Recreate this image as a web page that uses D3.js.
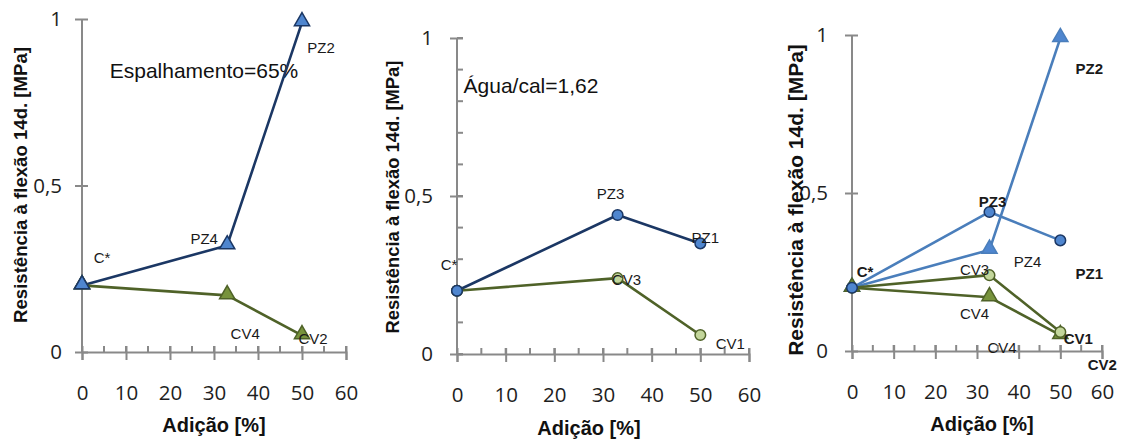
<!DOCTYPE html>
<html>
<head>
<meta charset="utf-8">
<script src="https://cdn.jsdelivr.net/npm/d3@7"></script>
<style>
  html, body { margin: 0; padding: 0; background: #fff; }
  svg { display: block; }
</style>
</head>
<body>
<svg id="chart" width="1121" height="441"></svg>
<script>
// ---------- DATA ----------
const xTicks = [0, 10, 20, 30, 40, 50, 60];
const yTicks = [0, 0.5, 1];
const yTickLabels = ["0", "0,5", "1"];
const addition = [0, 33, 50];
// Espalhamento = 65% (triangles)
const pzTriValues = [0.2, 0.32, 0.99];
const cvTriValues = [0.2, 0.17, 0.05];
// Água/cal = 1,62 (circles)
const pzCircValues = [0.2, 0.44, 0.35];
const cvCircValues = [0.2, 0.24, 0.06];
// point labels
const pzTriLabels = ["C*", "PZ4", "PZ2"];
const cvTriLabels = ["", "CV4", "CV2"];
const pzCircLabels = ["C*", "PZ3", "PZ1"];
const cvCircLabels = ["", "CV3", "CV1"];
const cvTriLabels3 = ["CV4", "CV4", "CV2"];
const yTitle = "Resistência à flexão 14d. [MPa]";
const xTitle = "Adição [%]";
const note1 = "Espalhamento=65%";
const note2 = "Água/cal=1,62";

// ---------- STYLE ----------
const NAVY = "#1b3764", BLUE = "#4a7ebb", BLUEFILL = "#4f86cf";
const OLIVE = "#4f6228", OLIVEFILL = "#77933c", LIGHTGREEN = "#c3d69b";
const AXIS = "#898989", TXT = "#1e1e1e";

const svg = d3.select("#chart");

const panels = [
  {
    xr: [82, 346], yr: [352, 19], yMinor: false, labelGap: 20, yTitleX: 20, yTitleY: 185, yTitleSize: 18.6,
    xTitleX: 214, xTitleY: 425,
    note: { text: note1, x: 204, y: 70 },
    series: [
      { vals: pzTriValues, line: NAVY, shape: "tri", fill: BLUEFILL, stroke: NAVY, labels: pzTriLabels,
        off: [[20, -28], [-23, -7], [19, 25]], bold: [] },
      { vals: cvTriValues, line: OLIVE, shape: "tri", fill: OLIVEFILL, stroke: OLIVE, labels: cvTriLabels,
        off: [[0, 0], [18, 38], [11, 3]], bold: [] },
      { vals: [pzTriValues[0]], line: NAVY, shape: "tri", fill: BLUEFILL, stroke: NAVY, labels: [""], off: [[0,0]], bold: [] }
    ]
  },
  {
    xr: [457, 749], yr: [354, 38], yMinor: true, labelGap: 24, yTitleX: 392, yTitleY: 197, yTitleSize: 18.4,
    xTitleX: 589, xTitleY: 428,
    note: { text: note2, x: 531, y: 85 },
    series: [
      { vals: pzCircValues, line: NAVY, shape: "circ", fill: BLUEFILL, stroke: NAVY, labels: pzCircLabels,
        off: [[-8, -26], [-7, -21], [5, -6]], bold: [] },
      { vals: cvCircValues, line: OLIVE, shape: "circ", fill: LIGHTGREEN, stroke: OLIVE, labels: cvCircLabels,
        off: [[0, 0], [9, 1], [30, 8]], bold: [] },
      { vals: [pzCircValues[0]], line: NAVY, shape: "circ", fill: BLUEFILL, stroke: NAVY, labels: [""], off: [[0,0]], bold: [] }
    ]
  },
  {
    xr: [852, 1102], yr: [351, 35], yMinor: false, labelGap: 24, yTitleX: 795, yTitleY: 200, yTitleSize: 21,
    xTitleX: 982, xTitleY: 424,
    note: null,
    series: [
      { vals: pzTriValues, line: BLUE, shape: "tri", fill: BLUEFILL, stroke: BLUE, labels: ["", "PZ4", "PZ2"],
        off: [[0, 0], [38, 12], [29, 30]], bold: [2] },
      { vals: cvTriValues, line: OLIVE, shape: "tri", fill: OLIVEFILL, stroke: OLIVE, labels: cvTriLabels3,
        off: [[150, 60], [-15, 16], [42, 29]], bold: [2] },
      { vals: cvCircValues, line: OLIVE, shape: "circ", fill: LIGHTGREEN, stroke: OLIVE, labels: cvCircLabels,
        off: [[0, 0], [-15, -6], [18, 6]], bold: [2] },
      { vals: pzCircValues, line: BLUE, shape: "circ", fill: BLUEFILL, stroke: NAVY, labels: pzCircLabels,
        off: [[13, -16], [3, -10], [29, 33]], bold: [0, 1, 2] }
    ]
  }
];

panels.forEach(p => {
  const x = d3.scaleLinear().domain([0, 60]).range(p.xr);
  const y = d3.scaleLinear().domain([0, 1]).range(p.yr);
  const g = svg.append("g");

  // minor ticks x (every 5, inside)
  const xMinor = d3.range(0, 61, 5);
  g.append("g").selectAll("line").data(xMinor).join("line")
    .attr("x1", d => x(d)).attr("x2", d => x(d))
    .attr("y1", y(0) - 6).attr("y2", y(0))
    .attr("stroke", AXIS).attr("stroke-width", 2);

  // x axis
  const xAxis = d3.axisBottom(x).tickValues(xTicks).tickSize(8).tickPadding(25).tickFormat(d3.format("d"));
  const gx = g.append("g").attr("transform", `translate(0,${y(0)})`).call(xAxis);
  gx.select(".domain").attr("stroke", AXIS).attr("stroke-width", 2);
  gx.selectAll(".tick line").attr("stroke", AXIS).attr("stroke-width", 2).attr("y1", -6);
  gx.selectAll(".tick text").attr("font-family", "'Open Sans', sans-serif").attr("font-size", 20.5)
    .attr("fill", TXT);

  // y minor
  if (p.yMinor) {
    const ym = d3.range(0, 1.01, 0.1);
    g.append("g").selectAll("line").data(ym).join("line")
      .attr("x1", x(0)).attr("x2", x(0) + 6)
      .attr("y1", d => y(d)).attr("y2", d => y(d))
      .attr("stroke", AXIS).attr("stroke-width", 2);
  }
  // y axis
  const yAxis = d3.axisLeft(y).tickValues(yTicks).tickSize(7).tickPadding(p.labelGap - 7)
    .tickFormat((d, i) => yTickLabels[i]);
  const gy = g.append("g").attr("transform", `translate(${x(0)},0)`).call(yAxis);
  gy.select(".domain").attr("stroke", AXIS).attr("stroke-width", 2).attr("d", `M0,${y(0)}V${y(1)}`);
  gy.selectAll(".tick line").attr("stroke", AXIS).attr("stroke-width", 2).attr("x2", 6).attr("x1", -7);
  gy.selectAll(".tick text").attr("font-family", "'Open Sans', sans-serif").attr("font-size", 20.5)
    .attr("fill", TXT);

  // titles
  g.append("text")
    .attr("transform", `translate(${p.yTitleX},${p.yTitleY}) rotate(-90)`)
    .attr("text-anchor", "middle").attr("dominant-baseline", "central")
    .attr("font-family", "'Liberation Sans', Arial, sans-serif").attr("font-weight", "bold")
    .attr("font-size", p.yTitleSize).attr("fill", "#111").text(yTitle);
  g.append("text")
    .attr("x", p.xTitleX).attr("y", p.xTitleY)
    .attr("text-anchor", "middle").attr("dominant-baseline", "central")
    .attr("font-family", "'Liberation Sans', Arial, sans-serif").attr("font-weight", "bold")
    .attr("font-size", 20).attr("fill", "#111").text(xTitle);

  if (p.note) {
    g.append("text").attr("x", p.note.x).attr("y", p.note.y)
      .attr("text-anchor", "middle").attr("dominant-baseline", "central")
      .attr("font-family", "'Liberation Sans', Arial, sans-serif")
      .attr("font-size", 21).attr("fill", "#111").text(p.note.text);
  }

  const line = d3.line().x((d, i) => x(addition[i])).y(d => y(d));
  const triSym = d3.symbol().type(d3.symbolTriangle).size(100);

  p.series.forEach(s => {
    const pts = s.vals.map((v, i) => ({ x: x(addition[i]), y: y(v), label: s.labels[i], off: s.off[i], i }));
    if (s.vals.length > 1) {
      g.append("path").datum(s.vals).attr("d", line)
        .attr("fill", "none").attr("stroke", s.line).attr("stroke-width", 2.6)
        .attr("stroke-linejoin", "round");
    }
    const mk = g.append("g").selectAll("g").data(pts).join("g")
      .attr("transform", d => `translate(${d.x},${d.y})`);
    if (s.shape === "tri") {
      mk.append("path").attr("d", triSym).attr("transform", "translate(0,-1)")
        .attr("fill", s.fill).attr("stroke", s.stroke).attr("stroke-width", 1.5);
    } else {
      mk.append("circle").attr("r", 5.3)
        .attr("fill", s.fill).attr("stroke", s.stroke).attr("stroke-width", 1.5);
    }
    s.pts = pts;
  });
  // labels on top
  p.series.forEach(s => {
    g.append("g").selectAll("text").data(s.pts.filter(d => d.label)).join("text")
      .attr("x", d => d.x + d.off[0]).attr("y", d => d.y + d.off[1])
      .attr("text-anchor", "middle").attr("dominant-baseline", "central")
      .attr("font-family", "'Liberation Sans', Arial, sans-serif")
      .attr("font-size", 15)
      .attr("font-weight", d => s.bold.includes(d.i) ? "bold" : "normal")
      .attr("fill", "#1a1a1a").text(d => d.label);
  });
});
</script>
</body>
</html>
